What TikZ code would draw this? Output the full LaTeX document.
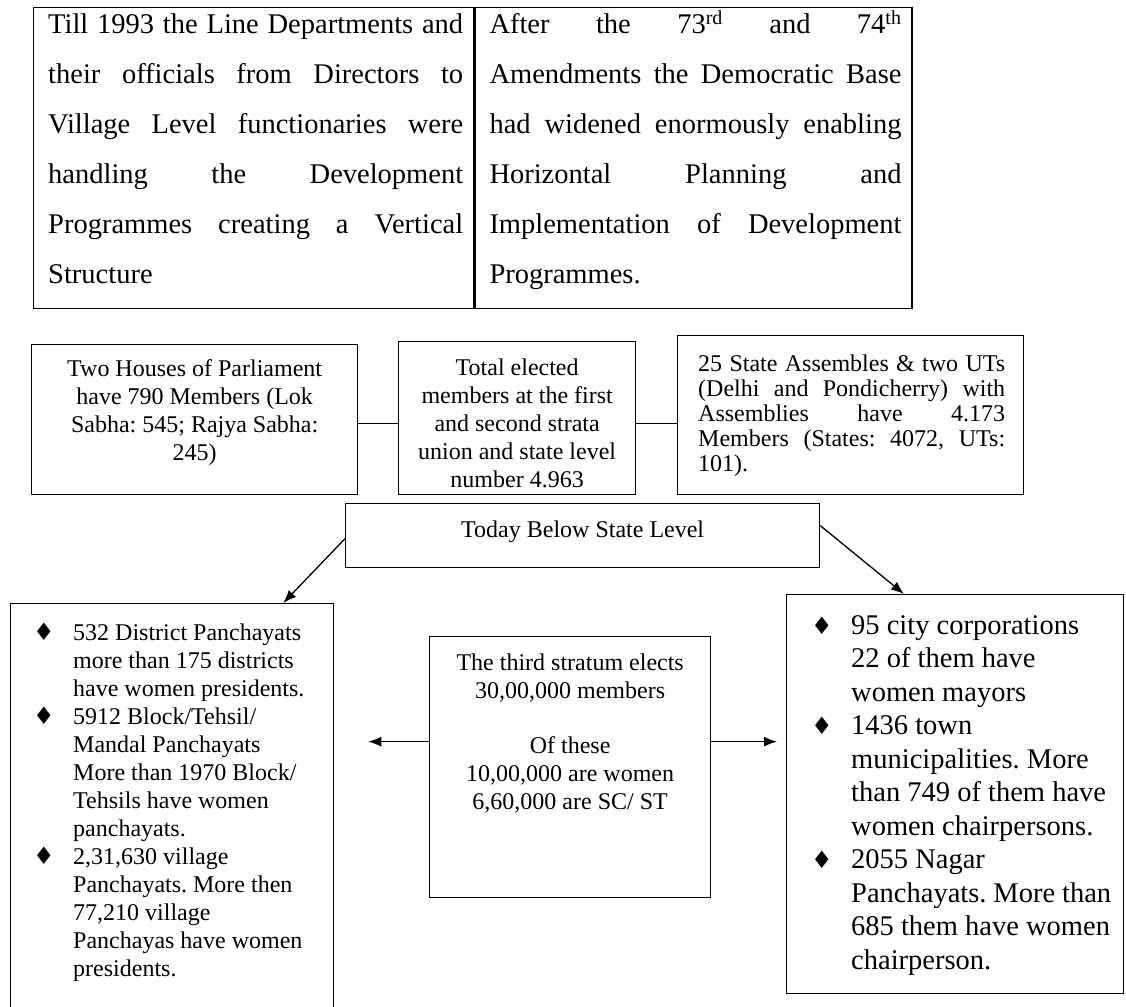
\documentclass[tikz,border=0pt]{standalone}
\usepackage{fontspec}
\setmainfont{Liberation Serif}
\newfontfamily\dingfont{DejaVu Sans}
\usepackage{tikz}
\usetikzlibrary{arrows.meta}
\frenchspacing

\newcommand{\jl}[1]{\makebox[\hsize][s]{#1}\\}
\newcommand{\bul}{{\dingfont\fontsize{24}{24}\selectfont ♦}}
\newcommand{\itm}{\par\hangindent=40pt\hangafter=1\noindent\makebox[40pt][l]{\hspace{0pt}\bul}}

\begin{document}
\begin{tikzpicture}[x=1pt,y=-1pt,
  box/.style={draw,line width=1.3pt,inner sep=0pt,anchor=north west},
  txt/.style={inner sep=0pt,text height=0pt,anchor=north west},
  arr/.style={line width=1.3pt,-{Latex[length=13pt,width=10pt]}}]
\useasboundingbox (0,0) rectangle (1126,1006);
\clip (0,0) rectangle (1126,1006);

\node[box,minimum width=440pt,minimum height=301pt] (before) at (33,7) {};
\node[box,minimum width=437pt,minimum height=301pt] (after) at (before.north east) {};
\node[txt] (before-t) at ([xshift=15pt,yshift=-26pt]before.north west) {\parbox[t]{415pt}{\fontsize{28.5}{50}\selectfont
  \jl{Till 1993 the Line Departments and}
  \jl{their officials from Directors to}
  \jl{Village Level functionaries were}
  \jl{handling the Development}
  \jl{Programmes creating a Vertical}
  Structure}};
\node[txt] (after-t) at ([xshift=15pt,yshift=-26pt]after.north west) {\parbox[t]{412pt}{\fontsize{28.5}{50}\selectfont
  \jl{After the 73\textsuperscript{rd} and 74\textsuperscript{th}}
  \jl{Amendments the Democratic Base}
  \jl{had widened enormously enabling}
  \jl{Horizontal Planning and}
  \jl{Implementation of Development}
  Programmes.}};

\node[box,minimum width=326pt,minimum height=150pt] (parl) at (31,344) {};
\node[txt,anchor=north] (parl-t) at ([yshift=-32pt]parl.north) {\parbox[t]{300pt}{\centering\fontsize{24}{28}\selectfont
  Two Houses of Parliament\\ have 790 Members (Lok\\ Sabha: 545; Rajya Sabha:\\ 245)}};
\node[box,minimum width=237pt,minimum height=153pt] (total) at (398,341) {};
\node[txt,anchor=north] (total-t) at ([yshift=-34pt]total.north) {\parbox[t]{225pt}{\centering\fontsize{24}{28}\selectfont
  Total elected\\ members at the first\\ and second strata\\ union and state level\\ number 4.963}};
\node[box,minimum width=346pt,minimum height=159pt] (states) at (677,335) {};
\node[txt] (states-t) at ([xshift=21pt,yshift=-36pt]states.north west) {\parbox[t]{307pt}{\fontsize{24}{25}\selectfont
  \jl{25 State Assembles \& two UTs}
  \jl{(Delhi and Pondicherry) with}
  \jl{Assemblies have 4.173}
  \jl{Members (States: 4072, UTs:}
  101).}};
\draw[line width=1.3pt] ([yshift=-4pt]parl.east) -- ([yshift=-4pt]parl.east -| total.west);
\draw[line width=1.3pt] ([yshift=-5.5pt]total.east) -- ([yshift=-5.5pt]total.east -| states.west);

\node[box,minimum width=474pt,minimum height=64pt] (today) at (345,503) {};
\node[txt,anchor=north] (today-t) at ([yshift=-34pt]today.north) {\fontsize{24}{28}\selectfont Today Below State Level};

\node[box,minimum width=323pt,minimum height=420pt] (lbox) at (10,603) {};
\node[txt] (lbox-t) at ([xshift=23pt,yshift=-37pt]lbox.north west) {\parbox[t]{295pt}{\fontsize{24}{28}\selectfont
  \itm 532 District Panchayats\\ more than 175 districts\\ have women presidents.
  \itm 5912 Block/Tehsil/\\ Mandal Panchayats\\ More than 1970 Block/\\ Tehsils have women\\ panchayats.
  \itm 2,31,630 village\\ Panchayats. More then\\ 77,210 village\\ Panchayas have women\\ presidents.}};

\node[box,minimum width=281pt,minimum height=261pt] (third) at (429,636) {};
\node[txt,anchor=north] (third-t) at ([yshift=-34pt]third.north) {\parbox[t]{270pt}{\centering\fontsize{24}{28}\selectfont
  The third stratum elects\\ 30,00,000 members\\[27pt] Of these\\ 10,00,000 are women\\ 6,60,000 are SC/ ST}};

\node[box,minimum width=337pt,minimum height=399pt] (rbox) at (786,594) {};
\node[txt] (rbox-t) at ([xshift=25pt,yshift=-40pt]rbox.north west) {\parbox[t]{300pt}{\fontsize{28.5}{33.5}\selectfont
  \itm 95 city corporations\\ 22 of them have\\ women mayors
  \itm 1436 town\\ municipalities. More\\ than 749 of them have\\ women chairpersons.
  \itm 2055 Nagar\\ Panchayats. More than\\ 685 them have women\\ chairperson.}};

\draw[arr] ([yshift=-3pt]today.west) -- ([xshift=-51pt]lbox.north east);
\draw[arr] ([yshift=10pt]today.east) -- ([xshift=118pt]rbox.north west);
\draw[arr,shorten >=34pt] ([yshift=25.5pt]third.west) -- ([yshift=25.5pt]third.west -| lbox.east);
\draw[arr,shorten >=9pt] ([yshift=25.5pt]third.east) -- ([yshift=25.5pt]third.east -| rbox.west);
\end{tikzpicture}
\end{document}
